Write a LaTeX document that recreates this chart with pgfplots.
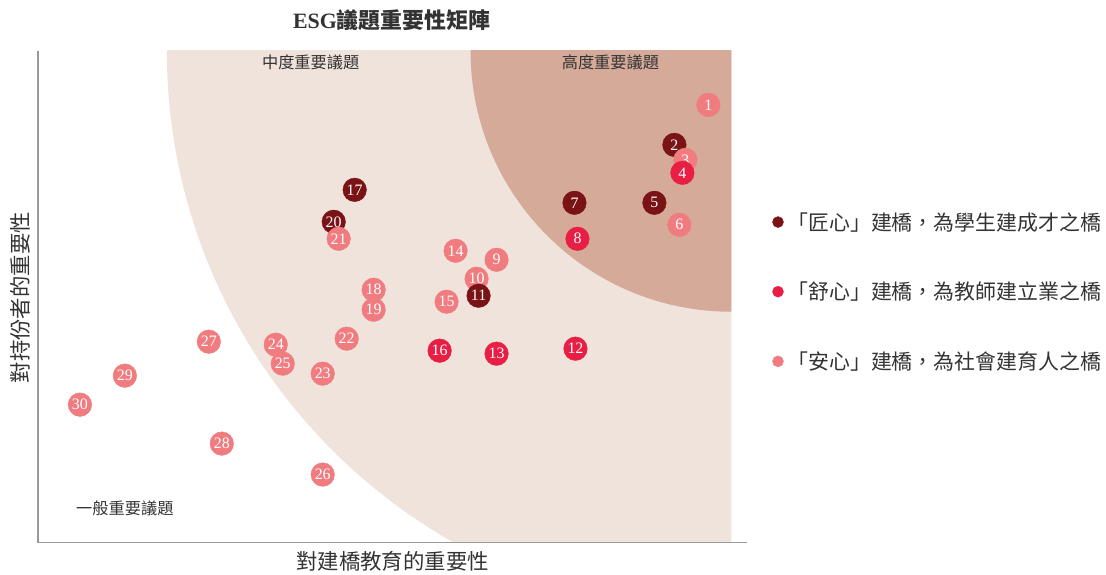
\documentclass[border=0pt]{standalone}
\usepackage{pgfplots}
\pgfplotsset{compat=1.18}
\usepackage{fontspec}
\setmainfont{Liberation Serif}
\newfontfamily\cjk{Noto Sans CJK TC}
\definecolor{cdark}{HTML}{7A1315}
\definecolor{cred}{HTML}{E81E45}
\definecolor{cpink}{HTML}{F07C80}
\definecolor{reglight}{HTML}{F0E3DC}
\definecolor{regdark}{HTML}{D5AA99}
\definecolor{axgray}{HTML}{9A9A9A}
\definecolor{txt}{HTML}{333333}
\newcommand{\bub}[4]{\addplot[forget plot, only marks, mark=*, mark size=11.8bp,
  color=#1, mark options={draw=#1, fill=#1},
  nodes near coords={#4},
  every node near coord/.append style={anchor=center, text=white, inner sep=0pt,
    font=\fontsize{16}{16}\selectfont}] coordinates {(#2,#3)};}
\begin{document}
\begin{tikzpicture}
\begin{axis}[
  set layers=standard,
  x=1bp, y=1bp,
  xmin=0, xmax=710, ymin=0, ymax=492,
  axis x line*=bottom, axis y line*=left,
  axis line style={-, axgray, line width=1.2bp},
  xtick=\empty, ytick=\empty,
  clip=false,
  legend style={draw=none, fill=none, at={(axis cs:732,251)}, anchor=west,
    font=\cjk\fontsize{21}{21}\selectfont, text=txt, row sep=46.5bp,
    column sep=2bp, legend cell align=left},
]
\pgfonlayer{axis background}
\begin{scope}
  \clip (axis cs:0,1) rectangle (axis cs:694,492);
  \fill[reglight] (axis cs:694,492) circle[radius=565bp];
  \fill[regdark] (axis cs:694,492) circle[radius=261bp];
\end{scope}
\endpgfonlayer

\addlegendimage{only marks, mark=*, mark size=5.5bp, color=cdark, mark options={draw=cdark, fill=cdark}}
\addlegendentry{「匠心」建橋，為學生建成才之橋}
\addlegendimage{only marks, mark=*, mark size=5.5bp, color=cred, mark options={draw=cred, fill=cred}}
\addlegendentry{「舒心」建橋，為教師建立業之橋}
\addlegendimage{only marks, mark=*, mark size=5.5bp, color=cpink, mark options={draw=cpink, fill=cpink}}
\addlegendentry{「安心」建橋，為社會建育人之橋}

\bub{cpink}{671}{438}{1}
\bub{cdark}{637}{398}{2}
\bub{cpink}{648}{383}{3}
\bub{cred}{645}{370}{4}
\bub{cdark}{617}{340}{5}
\bub{cpink}{642}{318}{6}
\bub{cdark}{537}{340}{7}
\bub{cred}{540}{304}{8}
\bub{cpink}{459}{283}{9}
\bub{cpink}{439}{264}{10}
\bub{cdark}{441}{247}{11}
\bub{cred}{538}{194}{12}
\bub{cred}{459}{189}{13}
\bub{cpink}{418}{292}{14}
\bub{cpink}{409}{241}{15}
\bub{cred}{402}{192}{16}
\bub{cdark}{317}{353}{17}
\bub{cpink}{336}{253}{18}
\bub{cpink}{336}{233}{19}
\bub{cdark}{296}{321}{20}
\bub{cpink}{301}{304}{21}
\bub{cpink}{309}{204}{22}
\bub{cpink}{285}{169}{23}
\bub{cpink}{238}{198}{24}
\bub{cpink}{245}{179}{25}
\bub{cpink}{285}{68}{26}
\bub{cpink}{171}{201}{27}
\bub{cpink}{184}{99}{28}
\bub{cpink}{87}{167}{29}
\bub{cpink}{42}{138}{30}

\node[text=txt, font=\fontsize{22}{22}\selectfont] at (axis cs:354,523) {\textbf{ESG}{\cjk\bfseries 議題重要性矩陣}};
\node[text=txt, font=\cjk\fontsize{21.5}{21.5}\selectfont] at (axis cs:355,-19) {對建橋教育的重要性};
\node[text=txt, font=\cjk\fontsize{21.5}{21.5}\selectfont, rotate=90] at (axis cs:-18,245) {對持份者的重要性};
\node[text=txt, font=\cjk\fontsize{16.3}{16.3}\selectfont] at (axis cs:273,481) {中度重要議題};
\node[text=txt, font=\cjk\fontsize{16.3}{16.3}\selectfont] at (axis cs:573,481) {高度重要議題};
\node[text=txt, font=\cjk\fontsize{16.3}{16.3}\selectfont] at (axis cs:87,34) {一般重要議題};
\path (axis cs:-38,-32) rectangle (axis cs:1068,543);
\end{axis}
\end{tikzpicture}
\end{document}
